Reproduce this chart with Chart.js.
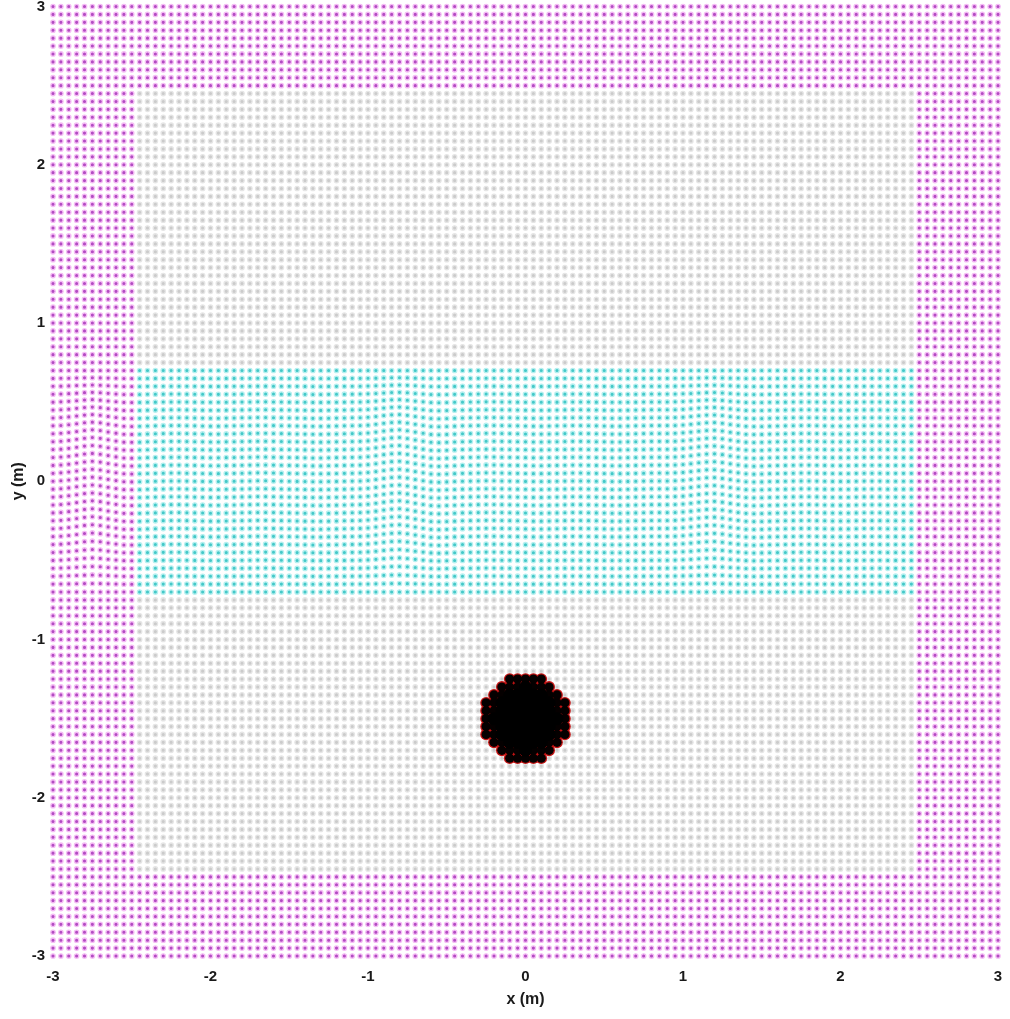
<!DOCTYPE html>
<html>
<head>
<meta charset="utf-8">
<script src="https://cdn.jsdelivr.net/npm/chart.js@4.4.0/dist/chart.umd.min.js"></script>
<style>
  html, body { margin: 0; padding: 0; background: #fff; }
  #wrap { width: 1010px; height: 1019px; }
</style>
</head>
<body>
<div id="wrap"><canvas id="particles"></canvas></div>
<script>
// tick labels on both axes
const xTicks = [-3, -2, -1, 0, 1, 2, 3];
const yTicks = [-3, -2, -1, 0, 1, 2, 3];

// particle lattice
const spacing = 0.05;
const domainHalf = 3;   // outer edge of the wall particles
const fluidHalf = 2.5;  // wall particles sit at |x| or |y| >= this
const bandHalf = 0.7;   // half height of the dyed layer

// immersed cylinder
const bodyCenter = [0, -1.5];
const bodyRadius = 0.27;
const rimWidth = 0.07;

// vertical displacement of the layer rows, one value per lattice column (m)
const bandShift = [
  0, 0.003, 0.008, 0.015, 0.022, 0.026, 0.021, 0.012, 0.004, -0.003,
  -0.004, -0.003, -0.001, 0, 0.001, 0.002, 0.002, 0.001, 0, -0.001,
  -0.002, -0.002, -0.001, 0, 0.001, 0.002, 0.003, 0.003, 0.002, 0.001,
  0, -0.001, -0.002, -0.003, -0.003, -0.002, -0.001, 0, 0.001, 0.002,
  0.005, 0.011, 0.018, 0.024, 0.026, 0.020, 0.011, 0.003, -0.004, -0.006,
  -0.004, -0.002, 0, 0.001, 0.002, 0.003, 0.003, 0.002, 0.001, 0,
  -0.001, -0.002, -0.002, -0.001, 0, 0.001, 0.002, 0.002, 0.001, 0,
  -0.001, -0.002, -0.002, -0.001, 0, 0.001, 0.002, 0.002, 0.002, 0.003,
  0.006, 0.011, 0.017, 0.022, 0.023, 0.018, 0.010, 0.003, -0.003, -0.005,
  -0.004, -0.002, -0.001, 0, 0.001, 0.002, 0.002, 0.001, 0, -0.001,
  -0.001, -0.001, 0, 0.001, 0.001, 0.001, 0, 0, 0, 0,
  0, 0, 0, 0, 0, 0, 0, 0, 0, 0,
  0
];
// how strongly each layer row (y = -0.7 ... 0.7) follows that displacement
const bandWeight = [
  0, 0.15, 0.3, 0.45, 0.6, 0.72, 0.82, 0.9, 0.96, 1,
  1, 1, 1, 1, 1, 1, 1, 1, 1, 1,
  0.96, 0.9, 0.82, 0.72, 0.6, 0.45, 0.3, 0.15, 0
];

const wall = [], fluid = [], dyed = [], rim = [], core = [];
const n = Math.round(2 * domainHalf / spacing) + 1;
const j0 = Math.round((domainHalf - bandHalf) / spacing);

for (let i = 0; i < n; i++) {
  const x = +(-domainHalf + i * spacing).toFixed(3);
  for (let j = 0; j < n; j++) {
    const y = +(-domainHalf + j * spacing).toFixed(3);
    const inBand = Math.abs(y) <= bandHalf + 1e-9;
    const dy = inBand ? bandShift[i] * bandWeight[j - j0] : 0;
    const p = { x: x, y: y + dy };
    if (Math.abs(x) >= fluidHalf - 1e-9 || Math.abs(y) >= fluidHalf - 1e-9) {
      wall.push(p);
      continue;
    }
    const d = Math.hypot(x - bodyCenter[0], y - bodyCenter[1]);
    if (d <= bodyRadius) {
      (d > bodyRadius - rimWidth ? rim : core).push(p);
    } else if (inBand) {
      dyed.push(p);
    } else {
      fluid.push(p);
    }
  }
}

const dot = { pointRadius: 2.2, pointBorderWidth: 1.3, clip: false };
const tickFont = { family: 'Liberation Sans', size: 15, weight: 'bold' };
const titleFont = { family: 'Liberation Sans', size: 16, weight: 'bold' };

new Chart(document.getElementById('particles'), {
  type: 'scatter',
  data: {
    datasets: [
      // cylinder: black fill over a red outer fringe
      { label: 'core', data: core, pointRadius: 6.5, pointBorderWidth: 0,
        pointBackgroundColor: '#000', clip: false },
      { label: 'rim', data: rim, pointRadius: 4.6, pointBorderWidth: 0,
        pointBackgroundColor: '#050000', clip: false },
      { label: 'rim edge', data: rim, pointRadius: 5.9, pointBorderWidth: 0,
        pointBackgroundColor: '#c41414', clip: false },
      Object.assign({ label: 'wall', data: wall,
        pointBackgroundColor: '#b24cc2', pointBorderColor: '#f5bdf5' }, dot),
      Object.assign({ label: 'layer', data: dyed,
        pointBackgroundColor: '#45c8c8', pointBorderColor: '#b6f0f0' }, dot),
      Object.assign({ label: 'fluid', data: fluid,
        pointBackgroundColor: '#cbcbcb', pointBorderColor: '#e6e6e6' }, dot)
    ]
  },
  options: {
    responsive: true,
    maintainAspectRatio: false,
    animation: false,
    events: [],
    layout: { padding: { top: 6, right: 12, left: 0, bottom: 0 } },
    plugins: { legend: { display: false }, tooltip: { enabled: false } },
    scales: {
      x: {
        type: 'linear', min: -3, max: 3,
        grid: { display: false, drawTicks: false }, border: { display: false },
        afterBuildTicks: s => { s.ticks = xTicks.map(v => ({ value: v })); },
        afterFit: s => { s.height = 63; s.paddingLeft = 0; s.paddingRight = 0; },
        ticks: { padding: 12, color: '#1a1a1a', font: tickFont, callback: v => String(v) },
        title: { display: true, text: 'x (m)', color: '#1a1a1a', padding: { top: 0, bottom: 10 },
                 font: titleFont }
      },
      y: {
        type: 'linear', min: -3, max: 3,
        grid: { display: false, drawTicks: false }, border: { display: false },
        afterBuildTicks: s => { s.ticks = yTicks.map(v => ({ value: v })); },
        afterFit: s => { s.width = 53; s.paddingTop = 0; s.paddingBottom = 0; },
        ticks: { padding: 8, color: '#1a1a1a', font: tickFont, callback: v => String(v) },
        title: { display: true, text: 'y (m)', color: '#1a1a1a', padding: { top: 9, bottom: 0 },
                 font: titleFont }
      }
    }
  }
});
</script>
</body>
</html>
